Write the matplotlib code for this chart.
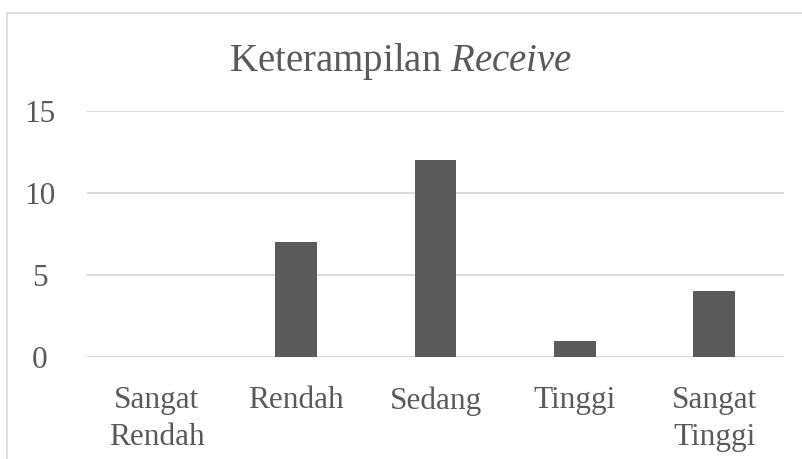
import matplotlib.pyplot as plt
from matplotlib.patches import Rectangle

categories = ['Sangat\nRendah', 'Rendah', 'Sedang', 'Tinggi', 'Sangat\nTinggi']
values = [0, 7, 12, 1, 4]
yticks = [0, 5, 10, 15]

TEXT = '#595959'
BAR = '#5b5b5b'
GRID = '#d9d9d9'

plt.rcParams['font.family'] = 'Liberation Serif'
plt.rcParams['mathtext.fontset'] = 'custom'
plt.rcParams['mathtext.it'] = 'Liberation Serif:italic'
plt.rcParams['mathtext.rm'] = 'Liberation Serif'

fig = plt.figure(figsize=(8.02, 4.59), dpi=100)
ax = fig.add_axes([87/802, 1 - 357/459, 697/802, 246/459])

x = range(len(categories))
ax.bar(x, values, width=0.3, color=BAR, zorder=3)
ax.set_xlim(-0.5, len(categories) - 0.5)
ax.set_ylim(0, 15)
ax.set_yticks(yticks)
ax.yaxis.grid(True, color=GRID, linewidth=1.3, zorder=0)
ax.set_xticks(list(x))
ax.set_xticklabels(categories, linespacing=1.35)

for s in ax.spines.values():
    s.set_visible(False)
ax.axhline(0, color=GRID, linewidth=1.3, zorder=2)

ax.tick_params(axis='both', length=0, labelsize=22.5, colors=TEXT)
ax.tick_params(axis='y', pad=34)
for lbl in ax.get_yticklabels():
    lbl.set_horizontalalignment('center')
ax.tick_params(axis='x', pad=21)
for lbl in ax.get_xticklabels():
    lbl.set_verticalalignment('top')

fig.text(0.5, 1 - 61/459, r'Keterampilan $Receive$', ha='center', va='center',
         fontsize=28, color=TEXT)

# light border of the chart area
fig.patches.append(Rectangle((7/802, -0.1), 1.0, 1 - 13/459 + 0.1,
                             transform=fig.transFigure, fill=False,
                             edgecolor=GRID, linewidth=1.2))

fig.savefig('out.png', dpi=100, facecolor='white')
